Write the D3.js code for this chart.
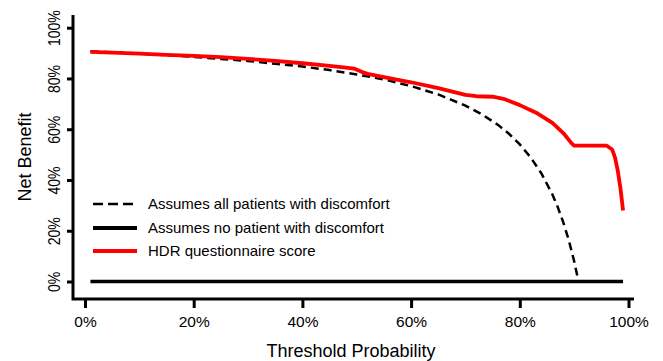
<!DOCTYPE html>
<html>
<head>
<meta charset="utf-8">
<script src="https://cdn.jsdelivr.net/npm/d3@7"></script>
<style>
  body { margin: 0; background: #fff; }
  text { font-family: "Liberation Sans", Arial, sans-serif; fill: #000; }
</style>
</head>
<body>
<div id="chart"></div>
<script>
// threshold probability ticks
var xTicks = [0, 0.2, 0.4, 0.6, 0.8, 1.0];
var yTicks = [0, 0.2, 0.4, 0.6, 0.8, 1.0];

// treat all (dashed)
var allThr = [0.01, 0.05, 0.10, 0.15, 0.20, 0.25, 0.30, 0.35, 0.40, 0.45, 0.50, 0.55, 0.60, 0.65, 0.70, 0.73, 0.76, 0.78, 0.80, 0.82, 0.84, 0.86, 0.87, 0.88, 0.89, 0.90, 0.908];
var allNB  = [0.907, 0.903, 0.898, 0.892, 0.885, 0.877, 0.869, 0.858, 0.847, 0.833, 0.816, 0.796, 0.770, 0.737, 0.693, 0.659, 0.617, 0.582, 0.540, 0.489, 0.425, 0.343, 0.292, 0.233, 0.164, 0.080, 0.0];

// treat none
var noneThr = [0.01, 0.99];
var noneNB  = [0, 0];

// HDR questionnaire score (red)
var hdrThr = [0.01, 0.05, 0.10, 0.15, 0.20, 0.25, 0.30, 0.35, 0.40, 0.45, 0.48, 0.495, 0.51, 0.52, 0.55, 0.60, 0.65, 0.70, 0.72, 0.75, 0.77, 0.80, 0.83, 0.86, 0.88, 0.895, 0.90, 0.93, 0.96, 0.97, 0.975, 0.98, 0.985, 0.99];
var hdrNB  = [0.905, 0.902, 0.898, 0.893, 0.889, 0.884, 0.877, 0.869, 0.860, 0.850, 0.843, 0.839, 0.825, 0.818, 0.805, 0.785, 0.762, 0.735, 0.730, 0.728, 0.720, 0.695, 0.665, 0.625, 0.585, 0.545, 0.535, 0.535, 0.535, 0.520, 0.490, 0.440, 0.370, 0.280];

var legendLabels = ["Assumes all patients with discomfort", "Assumes no patient with discomfort", "HDR questionnaire score"];

var width = 663, height = 361;

var svg = d3.select('#chart').append('svg')
  .attr('width', width)
  .attr('height', height);

var x = d3.scaleLinear().domain([0, 1]).range([85, 628.5]);
var y = d3.scaleLinear().domain([0, 1]).range([281.5, 27.7]);

// L-shaped frame
svg.append('path')
  .attr('d', 'M73,15 L73,299 L634,299')
  .attr('fill', 'none')
  .attr('stroke', '#000')
  .attr('stroke-width', 3);

// x axis ticks + labels
var xAxis = d3.axisBottom(x).tickValues(xTicks).tickSize(9).tickFormat(d3.format('.0%'));
var gx = svg.append('g').attr('transform', 'translate(0,299)').call(xAxis);
gx.select('.domain').remove();
gx.selectAll('.tick line').attr('stroke-width', 3);
gx.selectAll('.tick text')
  .attr('y', 17)
  .attr('dy', '0.71em')
  .style('font-size', '15.5px')
  .style('font-family', '"Liberation Sans", Arial, sans-serif');

// y axis ticks + labels (rotated, glyphs a bit stretched like the source image)
var yAxis = d3.axisLeft(y).tickValues(yTicks).tickSize(6).tickFormat(d3.format('.0%'));
var gy = svg.append('g').attr('transform', 'translate(73,0)').call(yAxis);
gy.select('.domain').remove();
gy.selectAll('.tick line').attr('stroke-width', 3);
gy.selectAll('.tick text')
  .attr('x', null).attr('dy', null)
  .attr('text-anchor', 'middle')
  .attr('transform', 'translate(-13,0) rotate(-90) scale(1,1.2)')
  .style('font-size', '14px')
  .style('font-family', '"Liberation Sans", Arial, sans-serif');

// axis titles
svg.append('text')
  .attr('x', 351).attr('y', 357)
  .attr('text-anchor', 'middle')
  .style('font-size', '18px')
  .text('Threshold Probability');

svg.append('text')
  .attr('transform', 'translate(31,157) rotate(-90)')
  .attr('text-anchor', 'middle')
  .style('font-size', '18px')
  .text('Net Benefit');

var line = d3.line()
  .x(function(d) { return x(d[0]); })
  .y(function(d) { return y(d[1]); });

// treat none
svg.append('path')
  .datum(d3.zip(noneThr, noneNB))
  .attr('d', line)
  .attr('fill', 'none')
  .attr('stroke', '#000')
  .attr('stroke-width', 3.5);

// treat all
svg.append('path')
  .datum(d3.zip(allThr, allNB))
  .attr('d', line)
  .attr('fill', 'none')
  .attr('stroke', '#000')
  .attr('stroke-width', 2.5)
  .attr('stroke-dasharray', '8,5');

// model
svg.append('path')
  .datum(d3.zip(hdrThr, hdrNB))
  .attr('d', line)
  .attr('fill', 'none')
  .attr('stroke', '#ff0000')
  .attr('stroke-width', 3.8)
  .attr('stroke-linejoin', 'round');

// legend
var legendY = [204, 228, 251];
var legendStyle = [
  { stroke: '#000', width: 2.5, dash: '10,5' },
  { stroke: '#000', width: 3.8, dash: null },
  { stroke: '#ff0000', width: 3.8, dash: null }
];
var lg = svg.append('g');
legendLabels.forEach(function(lab, i) {
  lg.append('line')
    .attr('x1', 93).attr('x2', 137)
    .attr('y1', legendY[i]).attr('y2', legendY[i])
    .attr('stroke', legendStyle[i].stroke)
    .attr('stroke-width', legendStyle[i].width)
    .attr('stroke-dasharray', legendStyle[i].dash);
  lg.append('text')
    .attr('x', 148).attr('y', legendY[i] + 5)
    .style('font-size', '15px')
    .text(lab);
});
</script>
</body>
</html>
